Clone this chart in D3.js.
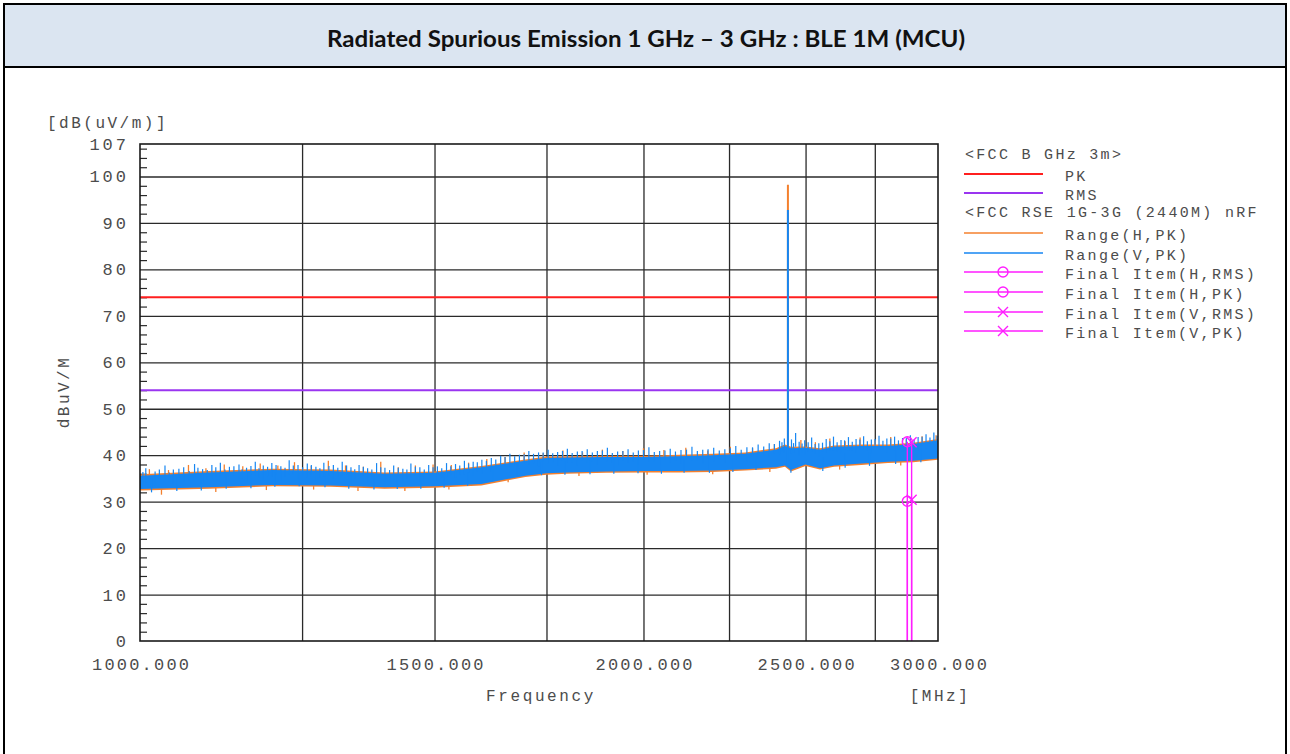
<!DOCTYPE html>
<html lang="en">
<head>
<meta charset="UTF-8">
<title>Radiated Spurious Emission 1 GHz - 3 GHz</title>
<script src="https://d3js.org/d3.v7.min.js"></script>
<style>
  body { margin: 0; background: #fff; }
  .mono { font-family: "Liberation Mono", "DejaVu Sans Mono", monospace; fill: #4c4c4c; }
</style>
</head>
<body>
<svg id="chart" width="1290" height="754"></svg>
<script>
// ---- data ----
const titleText = "Radiated Spurious Emission 1 GHz \u2013 3 GHz : BLE 1M (MCU)";
const xLabels = [1000, 1500, 2000, 2500, 3000];
const xGrid = [1250, 1500, 1750, 2000, 2250, 2500, 2750];
const yLabels = [0, 10, 20, 30, 40, 50, 60, 70, 80, 90, 100, 107];

// limit lines (dBuV/m)
const limitPK = 74;
const limitRMS = 54;

// noise floor band (envelope of the sweep)
const bandFreq = [1000, 1100, 1200, 1300, 1400, 1500, 1600, 1700, 1750, 1800, 1900, 2000, 2100, 2200, 2300, 2400, 2430, 2450, 2500, 2550, 2600, 2700, 2800, 2900, 3000];
const vLow  = [32.7, 33.1, 33.6, 33.5, 33.1, 33.3, 33.8, 35.6, 36.1, 36.3, 36.5, 36.6, 36.6, 36.7, 37.0, 37.4, 37.8, 36.8, 38.0, 37.2, 37.8, 38.2, 38.6, 38.8, 39.3];
const vHigh = [35.6, 36.3, 36.8, 36.6, 36.0, 36.2, 37.4, 38.8, 39.4, 39.5, 39.6, 39.6, 39.8, 40.0, 40.3, 41.2, 42.0, 41.5, 41.6, 41.2, 41.8, 42.0, 42.0, 42.4, 43.2];
const hLow  = [32.4, 32.8, 33.3, 33.2, 32.8, 33.0, 33.5, 35.3, 35.8, 36.0, 36.2, 36.3, 36.3, 36.4, 36.7, 37.1, 37.5, 36.5, 37.7, 36.9, 37.5, 37.9, 38.3, 38.5, 39.0];
const hHigh = [35.9, 36.6, 37.1, 36.9, 36.3, 36.5, 37.7, 39.1, 39.7, 39.8, 39.9, 39.9, 40.1, 40.3, 40.6, 41.5, 42.3, 41.8, 41.9, 41.5, 42.1, 42.3, 42.3, 42.7, 43.5];

// tall spikes above the band
const vSpikeF   = [1008, 1021, 1035, 1047, 1062, 1078, 1090, 1104, 1117, 1131, 1146, 1158, 1172, 1185, 1199, 1214, 1228, 1243, 1259, 1274, 1288, 1305, 1321, 1337, 1352, 1368, 1385, 1401, 1418, 1436, 1452, 1470, 1488, 1506, 1525, 1544, 1563, 1582, 1601, 1622, 1643, 1664, 1686, 1708, 1731, 1754, 1777, 1801, 1826, 1851, 1877, 1903, 1930, 1958, 1986, 2015, 2045, 2075, 2106, 2138, 2170, 2203, 2237, 2271, 2306, 2342, 2378, 2412, 2428, 2452, 2466, 2478, 2497, 2521, 2546, 2572, 2598, 2625, 2652, 2680, 2708, 2737, 2766, 2796, 2826, 2857, 2888, 2919, 2951, 2983];
const vSpikeTop = [37.2, 36.5, 37.8, 36.9, 37.4, 38.1, 37.0, 37.9, 38.4, 37.5, 38.0, 37.3, 38.6, 37.8, 38.3, 37.6, 38.9, 37.9, 38.2, 37.5, 38.4, 37.9, 38.6, 37.4, 37.9, 37.2, 38.3, 37.3, 37.8, 37.1, 38.2, 37.4, 37.9, 37.6, 38.3, 38.1, 38.8, 38.6, 39.0, 39.4, 39.9, 40.3, 40.1, 40.9, 40.6, 41.2, 40.7, 41.4, 40.8, 41.3, 40.9, 41.6, 40.8, 41.3, 41.0, 41.7, 40.9, 41.4, 41.1, 41.8, 41.2, 41.6, 41.3, 42.0, 41.7, 42.3, 42.6, 43.1, 43.6, 43.4, 44.8, 42.9, 43.2, 43.8, 42.6, 43.5, 44.0, 43.3, 43.9, 43.5, 44.1, 43.4, 44.2, 43.6, 44.0, 43.7, 44.3, 43.9, 44.5, 44.9];
// short grass on top of the band
const vGrassF   = [1004, 1027, 1041, 1055, 1070, 1083, 1097, 1110, 1124, 1138, 1151, 1165, 1178, 1192, 1206, 1221, 1235, 1251, 1266, 1281, 1297, 1313, 1329, 1344, 1360, 1376, 1393, 1410, 1427, 1444, 1461, 1479, 1497, 1515, 1534, 1553, 1572, 1591, 1611, 1632, 1653, 1675, 1697, 1719, 1742, 1765, 1789, 1813, 1838, 1864, 1890, 1916, 1944, 1972, 2000, 2030, 2060, 2090, 2122, 2154, 2186, 2220, 2254, 2288, 2324, 2360, 2395, 2420, 2459, 2488, 2509, 2533, 2559, 2585, 2611, 2638, 2666, 2694, 2722, 2751, 2781, 2811, 2841, 2872, 2903, 2935, 2967, 2996];
const vGrassTop = [36.4, 36.9, 36.3, 37.1, 36.6, 37.3, 36.8, 37.4, 36.9, 37.6, 37.0, 37.7, 37.2, 37.5, 37.9, 37.3, 37.8, 37.4, 37.9, 37.2, 37.7, 37.3, 37.8, 37.0, 37.5, 36.9, 37.4, 36.8, 37.3, 36.9, 37.5, 36.9, 37.4, 37.2, 37.6, 37.8, 38.2, 38.5, 38.8, 39.1, 39.6, 39.8, 40.2, 40.3, 40.6, 40.4, 40.9, 40.5, 40.9, 40.6, 41.0, 40.5, 40.9, 40.6, 41.1, 40.7, 41.0, 40.8, 41.2, 40.9, 41.3, 41.0, 41.5, 41.2, 41.7, 41.9, 42.4, 42.8, 42.6, 42.5, 42.8, 42.4, 42.7, 43.0, 42.8, 43.2, 42.9, 43.4, 43.0, 43.5, 43.1, 43.6, 43.2, 43.7, 43.4, 44.0, 43.8, 44.2];
const hSpikeF   = [1013, 1040, 1069, 1095, 1123, 1152, 1180, 1209, 1237, 1266, 1296, 1327, 1360, 1393, 1427, 1461, 1497, 1535, 1572, 1612, 1653, 1697, 1742, 1790, 1839, 1890, 1944, 2000, 2057, 2120, 2185, 2254, 2324, 2395, 2484, 2534, 2585, 2640, 2695, 2752, 2811, 2872, 2935, 2992];
const hSpikeTop = [37.0, 36.8, 37.9, 37.2, 38.0, 37.6, 38.2, 37.8, 38.5, 37.7, 38.8, 37.8, 37.5, 38.6, 37.4, 37.8, 38.0, 37.9, 38.4, 39.2, 39.6, 40.6, 40.4, 41.0, 40.6, 41.2, 40.9, 41.5, 41.1, 41.6, 41.0, 41.8, 41.5, 42.4, 43.3, 42.8, 43.6, 43.0, 43.8, 43.2, 43.9, 43.4, 44.1, 44.3];
// dips below the band
const vDipF   = [1016, 1052, 1088, 1126, 1165, 1204, 1245, 1290, 1333, 1380, 1425, 1472, 1520, 1570, 1625, 1680, 1738, 1795, 1858, 1920, 1985, 2050, 2115, 2190, 2262, 2335, 2450, 2560, 2640, 2730, 2830, 2930];
const vDipLow = [32.0, 32.3, 32.4, 32.8, 32.9, 33.2, 33.3, 33.1, 32.8, 32.6, 32.7, 32.8, 33.0, 33.4, 34.3, 35.4, 35.7, 35.8, 35.9, 36.0, 36.1, 36.0, 36.2, 36.2, 36.4, 36.8, 36.2, 36.6, 37.3, 37.7, 38.1, 38.5];
const hDipF   = [1030, 1110, 1190, 1270, 1350, 1440, 1530, 1660, 1830, 2010, 2200, 2380, 2620, 2850];
const hDipLow = [31.5, 32.1, 32.5, 32.6, 32.3, 32.3, 32.6, 34.2, 35.5, 35.8, 35.9, 36.4, 36.9, 37.8];

// carrier at 2440 MHz
const carrierFreq = 2440;
const carrierH = 98.2;
const carrierV = 92.8;

// final measured items
const finalNames = ["Final Item(H,RMS)", "Final Item(H,PK)", "Final Item(V,RMS)", "Final Item(V,PK)"];
const finalFreq  = [2876, 2876, 2893, 2893];
const finalLevel = [30.1, 42.9, 30.4, 42.8];
const finalShape = ["circle", "circle", "cross", "cross"];

// legend
const legendHeader1 = "<FCC B GHz 3m>";
const legendHeader2 = "<FCC RSE 1G-3G (2440M) nRF";
const legendNames = ["PK", "RMS", "Range(H,PK)", "Range(V,PK)"].concat(finalNames);

const colPK = "#ff1f1f", colRMS = "#9a35f0", colH = "#f4802e", colV = "#1686f2", colFinal = "#ff1dff";

// ---- drawing ----
const svg = d3.select("#chart");

// table frame and title cell
svg.append("rect").attr("x", 4).attr("y", 4).attr("width", 1282).attr("height", 64)
  .attr("fill", "#dbe5f1");
svg.append("rect").attr("x", 4).attr("y", 4).attr("width", 1282).attr("height", 760)
  .attr("fill", "none").attr("stroke", "#000").attr("stroke-width", 2);
svg.append("line").attr("x1", 4).attr("x2", 1286).attr("y1", 67).attr("y2", 67)
  .attr("stroke", "#000").attr("stroke-width", 2);
svg.append("text").attr("x", 646).attr("y", 38)
  .attr("text-anchor", "middle").attr("dominant-baseline", "central")
  .attr("textLength", 638).attr("lengthAdjust", "spacingAndGlyphs")
  .style("font-family", "Lato, 'Open Sans', sans-serif").style("font-weight", "bold")
  .style("font-size", "23px").attr("fill", "#111").text(titleText);

const pLeft = 140, pRight = 938, pTop = 144, pBottom = 641;
const x = d3.scaleLog().domain([1000, 3000]).range([pLeft, pRight]);
const y = d3.scaleLinear().domain([0, 107]).range([pBottom, pTop]);

const plot = svg.append("g");

// grid
plot.append("g").attr("transform", `translate(0,${pBottom})`)
  .call(d3.axisBottom(x).tickValues(xGrid).tickSize(-(pBottom - pTop)).tickFormat(""))
  .call(g => g.select(".domain").remove())
  .call(g => g.selectAll("line").attr("stroke", "#2a2a2a").attr("stroke-width", 1.3));
plot.append("g").attr("transform", `translate(${pLeft},0)`)
  .call(d3.axisLeft(y).tickValues(yLabels.filter(v => v > 0 && v < 107)).tickSize(-(pRight - pLeft)).tickFormat(""))
  .call(g => g.select(".domain").remove())
  .call(g => g.selectAll("line").attr("stroke", "#2a2a2a").attr("stroke-width", 1.3));
// minor ticks on y
plot.append("g").attr("transform", `translate(${pLeft},0)`)
  .call(d3.axisRight(y).tickValues(d3.range(2, 107, 2).filter(v => v % 10 !== 0)).tickSize(7).tickFormat(""))
  .call(g => g.select(".domain").remove())
  .call(g => g.selectAll("line").attr("stroke", "#2a2a2a").attr("stroke-width", 1.2));

// limit lines
plot.append("line").attr("x1", pLeft).attr("x2", pRight).attr("y1", y(limitPK)).attr("y2", y(limitPK))
  .attr("stroke", colPK).attr("stroke-width", 2);
plot.append("line").attr("x1", pLeft).attr("x2", pRight).attr("y1", y(limitRMS)).attr("y2", y(limitRMS))
  .attr("stroke", colRMS).attr("stroke-width", 2);

// sweeps
const band = (lo, hi) => d3.area()
  .x((d, i) => x(bandFreq[i])).y0((d, i) => y(lo[i])).y1((d, i) => y(hi[i]));
function ticksUp(fs, tops, len, col, w) {
  plot.append("g").selectAll("line").data(fs).join("line")
    .attr("x1", d => x(d)).attr("x2", d => x(d))
    .attr("y1", (d, i) => y(tops[i])).attr("y2", (d, i) => y(tops[i] + len))
    .attr("stroke", col).attr("stroke-width", w);
}
plot.append("path").datum(bandFreq).attr("d", band(hLow, hHigh)).attr("fill", colH);
ticksUp(hSpikeF, hSpikeTop, -3, colH, 1.3);
ticksUp(hDipF, hDipLow, 2.5, colH, 1.3);
plot.append("line").attr("x1", x(carrierFreq)).attr("x2", x(carrierFreq))
  .attr("y1", y(carrierH)).attr("y2", y(38)).attr("stroke", colH).attr("stroke-width", 2);

plot.append("path").datum(bandFreq).attr("d", band(vLow, vHigh)).attr("fill", colV);
ticksUp(vSpikeF, vSpikeTop, -3, colV, 1.2);
ticksUp(vGrassF, vGrassTop, -2, colV, 1.2);
ticksUp(vDipF, vDipLow, 3, colV, 1.2);
plot.append("line").attr("x1", x(carrierFreq)).attr("x2", x(carrierFreq))
  .attr("y1", y(carrierV)).attr("y2", y(38)).attr("stroke", colV).attr("stroke-width", 2);

// final items: stems and markers
function marker(g, shape, cx, cy) {
  if (shape === "circle") {
    g.append("circle").attr("cx", cx).attr("cy", cy).attr("r", 5)
      .attr("fill", "none").attr("stroke", colFinal).attr("stroke-width", 1.4);
  } else {
    g.append("path").attr("d", `M${cx - 5},${cy - 5}L${cx + 5},${cy + 5}M${cx - 5},${cy + 5}L${cx + 5},${cy - 5}`)
      .attr("stroke", colFinal).attr("stroke-width", 1.4);
  }
}
const fin = plot.append("g");
finalFreq.forEach((f, i) => {
  fin.append("line").attr("x1", x(f)).attr("x2", x(f)).attr("y1", y(finalLevel[i])).attr("y2", y(0))
    .attr("stroke", colFinal).attr("stroke-width", 1.4);
  marker(fin, finalShape[i], x(f), y(finalLevel[i]));
});

// plot border
plot.append("rect").attr("x", pLeft).attr("y", pTop).attr("width", pRight - pLeft).attr("height", pBottom - pTop)
  .attr("fill", "none").attr("stroke", "#1a1a1a").attr("stroke-width", 1.6);

// axis labels
const yAx = plot.append("g").attr("transform", `translate(${pLeft},0)`)
  .call(d3.axisLeft(y).tickValues(yLabels).tickSize(0).tickPadding(14 - 3).tickFormat(d3.format("d")));
yAx.select(".domain").remove();
yAx.selectAll("text").attr("class", "mono").style("font-size", "17px").style("letter-spacing", "3px");
yAx.attr("font-family", null).attr("fill", null);

const xAx = plot.append("g").attr("transform", `translate(0,${pBottom})`)
  .call(d3.axisBottom(x).tickValues(xLabels).tickSize(0).tickPadding(17).tickFormat(d3.format(".3f")));
xAx.select(".domain").remove();
xAx.selectAll("text").attr("class", "mono").style("font-size", "17px").style("letter-spacing", "2.2px")
  .attr("dx", 1.1);
xAx.attr("font-family", null).attr("fill", null);

svg.append("text").attr("class", "mono").attr("x", 47).attr("y", 124).attr("dominant-baseline", "central")
  .style("font-size", "16px").style("letter-spacing", "2.5px").text("[dB(uV/m)]");
svg.append("text").attr("class", "mono").attr("transform", "translate(65,392) rotate(-90)")
  .attr("text-anchor", "middle").attr("dominant-baseline", "central")
  .style("font-size", "16px").style("letter-spacing", "2.5px").text("dBuV/M");
svg.append("text").attr("class", "mono").attr("x", 541).attr("y", 697)
  .attr("text-anchor", "middle").attr("dominant-baseline", "central")
  .style("font-size", "16px").style("letter-spacing", "2.6px").text("Frequency");
svg.append("text").attr("class", "mono").attr("x", 940).attr("y", 697)
  .attr("text-anchor", "middle").attr("dominant-baseline", "central")
  .style("font-size", "16px").style("letter-spacing", "2.5px").text("[MHz]");

// legend
const leg = svg.append("g");
const legText = (t, lx, ly) => leg.append("text").attr("class", "mono").attr("x", lx).attr("y", ly)
  .attr("dominant-baseline", "central").style("font-size", "15px").style("letter-spacing", "2.3px").text(t);
legText(legendHeader1, 965, 155);
legText(legendHeader2, 965, 213);
const rowY = [174, 193, 233, 253, 272, 292, 312, 331];
const rowCol = [colPK, colRMS, colH, colV, colFinal, colFinal, colFinal, colFinal];
const rowShape = [null, null, null, null].concat(finalShape);
legendNames.forEach((name, i) => {
  leg.append("line").attr("x1", 964).attr("x2", 1043).attr("y1", rowY[i]).attr("y2", rowY[i])
    .attr("stroke", rowCol[i]).attr("stroke-width", i < 2 ? 2 : 1.3);
  if (rowShape[i]) marker(leg, rowShape[i], 1003, rowY[i]);
  legText(name, 1065, rowY[i] + 3);
});
</script>
</body>
</html>
